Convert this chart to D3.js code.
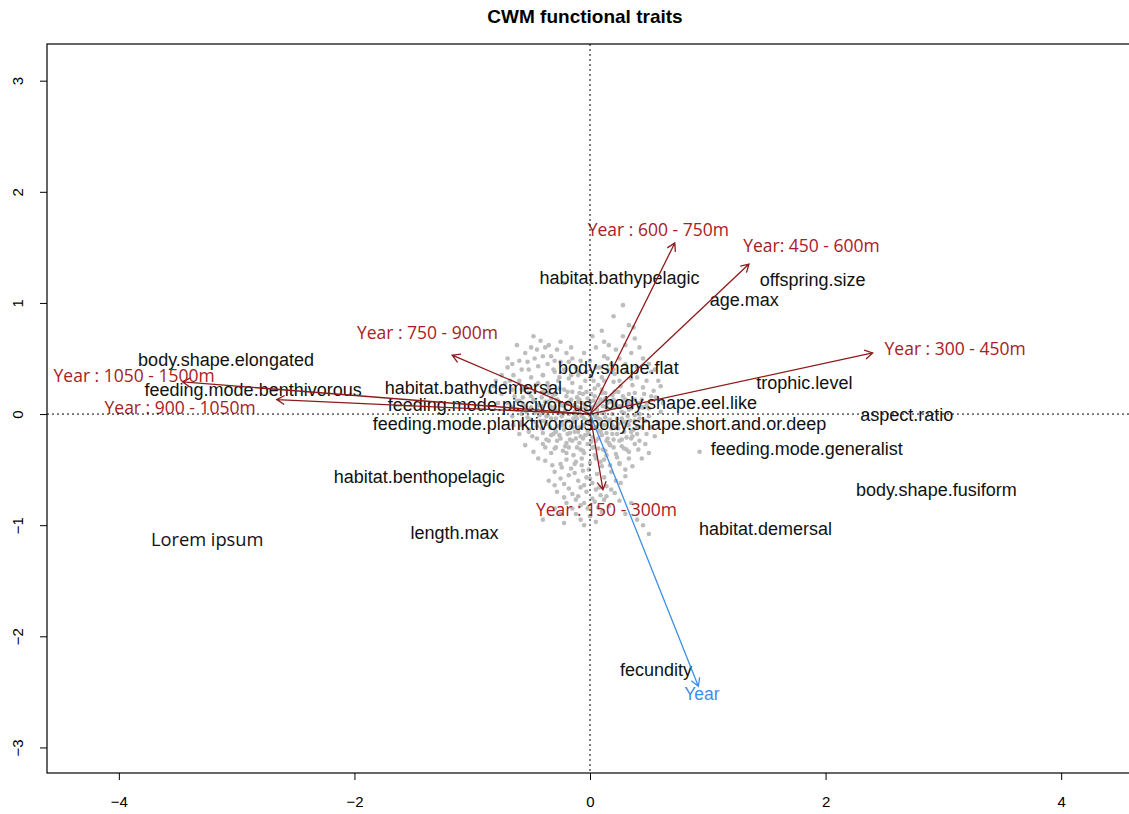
<!DOCTYPE html>
<html>
<head>
<meta charset="utf-8">
<script src="https://cdn.jsdelivr.net/npm/d3@7"></script>
<style>
  html, body { margin: 0; padding: 0; background: #fff; }
  svg { display: block; }
</style>
</head>
<body>
<svg id="chart" width="1129" height="814"></svg>
<script>
// ---------------- DATA ----------------
const xTicks = [-4, -2, 0, 2, 4];
const yTicks = [-3, -2, -1, 0, 1, 2, 3];

const traitLabels = ["habitat.bathypelagic","offspring.size","age.max","body.shape.elongated",
  "feeding.mode.benthivorous","habitat.bathydemersal","body.shape.flat","feeding.mode.piscivorous",
  "body.shape.eel.like","feeding.mode.planktivorous","body.shape.short.and.or.deep","trophic.level",
  "aspect.ratio","feeding.mode.generalist","body.shape.fusiform","habitat.demersal",
  "habitat.benthopelagic","length.max","fecundity"];
const traitX = [0.25, 1.89, 1.31, -3.09, -2.86, -0.99, 0.24, -0.85, 0.77, -0.91, 1.00, 1.82,
  2.69, 1.84, 2.94, 1.49, -1.45, -1.15, 0.56];
const traitY = [1.23, 1.21, 1.03, 0.49, 0.22, 0.24, 0.42, 0.08, 0.10, -0.09, -0.09, 0.28,
  -0.01, -0.31, -0.68, -1.03, -0.56, -1.07, -2.30];

const depthLabels = ["Year : 600 - 750m","Year: 450 - 600m","Year : 300 - 450m","Year : 750 - 900m",
  "Year : 1050 - 1500m","Year : 900 - 1050m","Year : 150 - 300m"];
const depthArrowX = [0.72, 1.35, 2.40, -1.17, -3.46, -2.66, 0.11];
const depthArrowY = [1.54, 1.35, 0.55, 0.53, 0.29, 0.13, -0.68];
const depthLabelX = [0.58, 1.88, 3.10, -1.38, -3.87, -3.48, 0.14];
const depthLabelY = [1.66, 1.51, 0.59, 0.73, 0.34, 0.06, -0.86];

const yearLabel = "Year";
const yearArrow = [0.92, -2.45];
const yearLabelPos = [0.95, -2.52];

const noteLabel = "Lorem ipsum";
const notePos = [-3.25, -1.13];

// site scores (grey cloud)
const sitePoints = [
  [-0.42,0.66],[-0.38,0.60],[-0.55,0.55],[-0.60,0.48],[-0.47,0.50],[-0.33,0.52],[-0.28,0.58],[-0.70,0.42],
  [-0.65,0.35],[-0.52,0.40],[-0.44,0.43],[-0.36,0.45],[-0.25,0.47],[-0.20,0.55],[-0.15,0.50],[-0.80,0.30],
  [-0.72,0.28],[-0.60,0.30],[-0.50,0.33],[-0.40,0.35],[-0.30,0.38],[-0.22,0.40],[-0.12,0.42],[-0.08,0.48],
  [-0.85,0.20],[-0.75,0.18],[-0.66,0.22],[-0.56,0.24],[-0.46,0.26],[-0.36,0.28],[-0.27,0.30],[-0.18,0.32],
  [-0.10,0.35],[-0.03,0.38],[-0.62,0.62],[-0.48,0.70],[-0.57,0.15],[-0.78,0.10],
  [0.20,0.88],[0.33,0.80],[0.28,0.70],[0.12,0.65],[0.05,0.60],[0.22,0.58],[0.35,0.55],[0.45,0.50],
  [0.15,0.50],[0.30,0.45],[0.40,0.42],[0.52,0.38],[0.08,0.42],[0.20,0.40],[0.58,0.30],[0.48,0.30],
  [0.35,0.32],[0.25,0.30],[0.12,0.30],[0.03,0.30],
  [-0.02,0.01],[0.05,-0.03],[-0.08,0.05],[0.11,0.07],[-0.14,-0.04],[0.03,0.12],[-0.05,-0.10],[0.16,-0.06],
  [-0.19,0.09],[0.08,-0.15],[-0.11,0.15],[0.20,0.13],[-0.24,-0.08],[0.13,0.19],[-0.03,0.20],[0.27,0.02],
  [-0.29,0.03],[0.02,-0.21],[-0.17,-0.17],[0.23,-0.18],[0.33,0.10],[-0.33,0.14],[0.07,0.26],[-0.09,-0.26],
  [0.31,-0.10],[-0.37,-0.02],[0.17,-0.28],[-0.22,0.22],[0.38,0.19],[-0.41,0.07],[0.10,0.33],[-0.15,0.28],
  [0.42,-0.04],[-0.45,-0.11],[0.26,0.25],[-0.28,-0.24],[0.01,0.34],[0.48,0.08],[-0.50,0.16],[0.36,-0.20],
  [-0.06,-0.33],[0.14,-0.37],[-0.35,0.24],[0.45,0.24],[-0.54,0.02],[0.29,-0.31],[-0.20,-0.35],[0.05,0.42],
  [-0.10,0.38],[0.52,-0.12],[-0.58,-0.07],[0.21,0.36],[-0.26,0.33],[0.40,0.33],[-0.44,0.28],[0.09,-0.43],
  [-0.13,-0.45],[0.56,0.15],[-0.62,0.12],[0.33,-0.40],[-0.38,-0.30],[0.00,0.48],[-0.49,-0.20],[0.47,-0.27],
  [0.18,0.45],[-0.31,0.40],[0.60,0.02],[-0.67,0.06],[0.25,-0.45],[-0.24,-0.48],[-0.01,-0.50],[0.12,0.52],
  [-0.18,0.47],
  [0.01,-0.05],[-0.04,0.08],[0.06,0.04],[-0.07,-0.02],[0.09,-0.09],[-0.10,0.11],[0.12,0.01],[-0.13,0.02],
  [0.04,0.16],[-0.02,-0.15],[0.15,0.10],[-0.16,-0.11],[0.18,-0.13],[-0.20,0.16],[0.21,0.06],[-0.23,0.00],
  [0.07,-0.22],[-0.08,0.24],[0.24,-0.09],[-0.27,0.12],[0.28,0.16],[-0.30,-0.14],[0.10,0.22],[-0.12,-0.22],
  [0.32,-0.02],[-0.34,0.07],[0.14,-0.24],[-0.04,0.30],[0.35,0.05],[-0.39,0.19],[0.20,0.29],[-0.21,-0.29],
  [0.37,-0.14],[-0.42,-0.06],[0.03,-0.30],[0.44,0.13],[-0.47,0.12],[0.27,-0.23],[-0.16,0.35],[0.50,-0.02],
  [-0.52,-0.14],[0.15,0.40],[-0.33,-0.19],[0.41,-0.32],[-0.40,0.35],[0.54,0.21],[-0.56,0.22],[0.22,-0.36],
  [-0.07,-0.40],[0.31,0.38],
  [-0.58,0.22],[-0.47,0.21],[-0.35,0.19],[-0.26,0.23],[-0.15,0.20],[-0.06,0.18],[0.04,0.23],[0.13,0.14],
  [0.24,0.20],[0.36,0.26],[0.46,0.18],[-0.64,0.16],[-0.41,0.15],[-0.31,0.17],[-0.11,0.06],[-0.02,0.14],
  [0.08,0.10],[0.19,0.17],[0.30,0.13],[0.41,0.10],[0.52,0.16],[-0.70,0.10],[-0.57,0.09],[-0.45,0.04],
  [-0.36,0.11],[-0.25,0.08],[-0.16,0.13],[-0.07,0.10],[0.02,0.06],[0.11,0.12],[0.22,0.09],[0.33,0.04],
  [0.44,0.06],[-0.62,0.04],[-0.50,0.06],[-0.40,0.01],[-0.30,0.06],[-0.21,0.03],[-0.12,-0.01],[-0.03,0.03],
  [0.06,0.00],[0.15,0.04],[0.26,0.07],[0.38,-0.01],[0.50,0.05],[-0.66,-0.02],[-0.53,-0.03],[-0.43,-0.01],
  [-0.33,-0.04],[-0.24,-0.02],[-0.14,-0.07],[-0.05,-0.04],[0.04,-0.01],[0.13,-0.03],[0.23,-0.04],[0.34,-0.06],
  [0.47,-0.06],[-0.58,-0.10],[-0.46,-0.07],[-0.37,-0.09],[-0.27,-0.11],[-0.18,-0.06],[-0.09,-0.12],[0.00,-0.08],
  [0.09,-0.05],[0.19,-0.10],[0.29,-0.07],[0.40,-0.11],[-0.52,-0.16],[-0.41,-0.13],[-0.31,-0.18],[-0.22,-0.14],
  [-0.13,-0.16],[-0.04,-0.19],[0.05,-0.12],[0.14,-0.17],[0.24,-0.13],[0.35,-0.16],[0.48,-0.18],[-0.45,-0.22],
  [-0.35,-0.24],[-0.26,-0.19],[-0.17,-0.23],[-0.08,-0.20],[0.01,-0.25],[0.10,-0.19],[0.20,-0.23],[0.31,-0.21],
  [0.42,-0.24],[-0.40,-0.27],[-0.29,-0.30],[-0.20,-0.26],[-0.11,-0.30],[-0.02,-0.27],[0.07,-0.31],[0.16,-0.26],
  [0.27,-0.29],[0.38,-0.27],[-0.33,-0.35],[-0.23,-0.33],[-0.14,-0.37],[-0.05,-0.35],[0.04,-0.37],[0.13,-0.33],
  [0.23,-0.39],[0.33,-0.34],
  [-0.38,-0.42],[-0.25,-0.45],[-0.12,-0.43],[0.00,-0.44],[0.12,-0.41],[0.25,-0.44],[0.36,-0.47],[-0.30,-0.52],
  [-0.18,-0.55],[-0.06,-0.51],[0.06,-0.54],[0.18,-0.52],[0.30,-0.56],[-0.35,-0.60],[-0.22,-0.63],[-0.10,-0.60],
  [0.02,-0.62],[0.14,-0.65],[0.26,-0.62],[-0.28,-0.70],[-0.15,-0.72],[-0.03,-0.70],[0.09,-0.73],[0.21,-0.71],
  [-0.20,-0.80],[-0.08,-0.82],[0.04,-0.79],[0.16,-0.83],[-0.30,-0.85],[-0.12,-0.90],[0.00,-0.92],[0.10,-0.88],
  [-0.40,-0.95],[-0.22,-0.98],[-0.05,-1.00],[0.30,-0.90],[0.45,-1.00],[0.50,-1.08],[-0.16,-0.49],[-0.03,-0.57],
  [0.10,-0.47],[-0.08,-0.66],[0.05,-0.68],[-0.12,-0.77],[0.12,-0.77],[-0.02,-0.85],
  [-0.22,1.18],[0.93,-0.34],[0.37,0.78],[0.28,0.98],
  [-0.70,0.50],[-0.66,0.45],[-0.58,0.40],[-0.75,0.35],[-0.68,0.30],[-0.82,0.25],[-0.53,0.47],[-0.45,0.58],
  [-0.35,0.62],[-0.30,0.48],[-0.40,0.52],[-0.50,0.60],[-0.25,0.65],[-0.16,0.60],[-0.05,0.55],[0.02,0.70],
  [0.10,0.75],[0.16,0.62],[0.25,0.50],[0.30,0.62],[0.38,0.68],[0.42,0.60],[0.50,0.45],[0.55,0.40],
  [0.60,0.25],[0.62,0.10],[0.58,-0.08],[0.55,-0.20],[0.50,-0.35],[0.44,-0.40],[-0.60,-0.18],[-0.65,-0.10],
  [-0.55,-0.28],[-0.48,-0.34],[-0.44,-0.40],
  [-0.52,0.19],[-0.40,0.20],[-0.29,0.18],[-0.19,0.20],[-0.09,0.19],[0.01,0.18],[0.10,0.19],[0.21,0.20],
  [0.33,0.18],[-0.60,0.12],[-0.48,0.13],[-0.38,0.11],[-0.28,0.13],[-0.18,0.11],[-0.09,0.13],[0.00,0.11],
  [0.09,0.13],[0.18,0.11],[0.28,0.12],[0.38,0.13],[-0.55,0.07],[-0.44,0.08],[-0.33,0.06],[-0.22,0.07],
  [-0.13,0.08],[-0.04,0.06],[0.05,0.08],[0.14,0.06],[0.24,0.07],[0.36,0.08],[0.46,0.06],[-0.58,0.00],
  [-0.47,0.01],[-0.36,-0.01],[-0.27,0.01],[-0.18,0.00],[-0.09,0.01],[0.00,-0.01],[0.10,0.01],[0.19,0.00],
  [0.29,0.01],[0.42,0.00],[-0.50,-0.05],[-0.39,-0.06],[-0.29,-0.04],[-0.20,-0.06],[-0.11,-0.04],[-0.02,-0.06],
  [0.07,-0.04],[0.17,-0.05],[0.27,-0.04],[0.38,-0.06],[-0.45,-0.11],[-0.34,-0.12],[-0.24,-0.10],[-0.15,-0.12],
  [-0.06,-0.10],[0.04,-0.12],[0.12,-0.10],[0.22,-0.12],[0.33,-0.10],[0.44,-0.12],[-0.40,-0.17],[-0.29,-0.16],
  [-0.19,-0.18],[-0.10,-0.16],[-0.01,-0.18],[0.09,-0.16],[0.19,-0.18],[0.29,-0.16],[0.40,-0.18],[-0.37,-0.23],
  [-0.25,-0.22],[-0.15,-0.24],[-0.06,-0.22],[0.05,-0.24],[0.15,-0.22],[0.25,-0.24],[0.35,-0.22],[-0.30,-0.31],
  [-0.18,-0.30],[-0.08,-0.32],[0.02,-0.30],[0.11,-0.32],[0.20,-0.30],[0.31,-0.32],
  [-0.32,-0.46],[-0.20,-0.41],[-0.07,-0.46],[0.05,-0.40],[0.17,-0.46],[0.30,-0.50],[-0.25,-0.58],[-0.13,-0.53],
  [0.00,-0.58],[0.12,-0.57],[0.22,-0.60],[-0.30,-0.64],[-0.18,-0.67],[-0.05,-0.64],[0.08,-0.66],[0.18,-0.68],
  [-0.22,-0.75],[-0.10,-0.74],[0.02,-0.76],[0.14,-0.74],[-0.15,-0.85],[-0.05,-0.80],[0.07,-0.84],[-0.25,-0.90],
  [-0.08,-0.95],[0.05,-0.97],[0.40,-0.95],[0.35,-0.80],[0.25,-0.78]
];

// ---------------- LAYOUT ----------------
const svg = d3.select("#chart");
const x = d3.scaleLinear().domain([-4.61, 4.61]).range([47, 1133]);
const y = d3.scaleLinear().domain([-3.23, 3.33]).range([773, 44]);

const darkRed = "#8e1b1b";
const redText = "#a8201f";
const blue = "#3d8fe6";
const blackFont = "'Liberation Sans', Arial, Helvetica, sans-serif";
const redFont = "'Open Sans', 'Noto Sans', sans-serif";

// title
svg.append("text")
  .attr("x", 585).attr("y", 23)
  .attr("text-anchor", "middle")
  .attr("font-family", blackFont)
  .attr("font-weight", "bold")
  .attr("font-size", 19)
  .text("CWM functional traits");

// axes
const xAxis = d3.axisBottom(x).tickValues(xTicks).tickSize(7).tickPadding(16).tickFormat(d3.format("d"));
const gx = svg.append("g").attr("transform", `translate(0,${y(-3.23)})`).call(xAxis);
gx.select(".domain").remove();
gx.selectAll("text").attr("font-family", blackFont).attr("font-size", 15).attr("fill", "#000");
gx.selectAll("line").attr("stroke", "#000");

const yAxis = d3.axisLeft(y).tickValues(yTicks).tickSize(7).tickFormat(d3.format("d"));
const gy = svg.append("g").attr("transform", `translate(${x(-4.61)},0)`).call(yAxis);
gy.select(".domain").remove();
gy.selectAll("line").attr("stroke", "#000");
gy.selectAll(".tick text")
  .attr("font-family", blackFont).attr("font-size", 15).attr("fill", "#000")
  .attr("text-anchor", "middle")
  .attr("x", 0).attr("y", 5).attr("dy", null)
  .attr("transform", "translate(-29,0) rotate(-90)");

// box
svg.append("rect")
  .attr("x", x(-4.61)).attr("y", y(3.33))
  .attr("width", x(4.61) - x(-4.61)).attr("height", y(-3.23) - y(3.33))
  .attr("fill", "none").attr("stroke", "#000").attr("stroke-width", 1.2);

// points
svg.append("g").selectAll("circle").data(sitePoints).join("circle")
  .attr("cx", d => x(d[0])).attr("cy", d => y(d[1]))
  .attr("r", 2.3).attr("fill", "#bdbdbd");

// trait labels
svg.append("g").selectAll("text").data(traitLabels).join("text")
  .attr("x", (d, i) => x(traitX[i])).attr("y", (d, i) => y(traitY[i]))
  .attr("dy", "0.35em").attr("text-anchor", "middle")
  .attr("font-family", blackFont).attr("font-size", 18).attr("fill", "#111")
  .text(d => d);

// arrows
function arrow(g, x1, y1, x2, y2, color) {
  const ang = Math.atan2(y2 - y1, x2 - x1);
  const L = 9, a = Math.PI / 6;
  const p = d3.path();
  p.moveTo(x1, y1); p.lineTo(x2, y2);
  p.moveTo(x2 - L * Math.cos(ang - a), y2 - L * Math.sin(ang - a));
  p.lineTo(x2, y2);
  p.lineTo(x2 - L * Math.cos(ang + a), y2 - L * Math.sin(ang + a));
  g.append("path").attr("d", p.toString()).attr("fill", "none")
    .attr("stroke", color).attr("stroke-width", 1.3);
}
const ga = svg.append("g");
depthLabels.forEach((d, i) => arrow(ga, x(0), y(0), x(depthArrowX[i]), y(depthArrowY[i]), darkRed));
arrow(ga, x(0), y(0), x(yearArrow[0]), y(yearArrow[1]), blue);

// depth labels
svg.append("g").selectAll("text").data(depthLabels).join("text")
  .attr("x", (d, i) => x(depthLabelX[i])).attr("y", (d, i) => y(depthLabelY[i]))
  .attr("dy", "0.35em").attr("text-anchor", "middle")
  .attr("font-family", redFont).attr("font-size", 17.5).attr("fill", redText)
  .text(d => d);

svg.append("text")
  .attr("x", x(yearLabelPos[0])).attr("y", y(yearLabelPos[1]))
  .attr("dy", "0.35em").attr("text-anchor", "middle")
  .attr("font-family", blackFont).attr("font-size", 17.5).attr("fill", blue)
  .text(yearLabel);

svg.append("text")
  .attr("x", x(notePos[0])).attr("y", y(notePos[1]))
  .attr("dy", "0.35em").attr("text-anchor", "middle")
  .attr("font-family", redFont).attr("font-size", 18.3).attr("fill", "#111")
  .text(noteLabel);

// reference lines (dotted)
svg.append("line")
  .attr("x1", x(-4.61)).attr("x2", x(4.61)).attr("y1", y(0)).attr("y2", y(0))
  .attr("stroke", "#000").attr("stroke-width", 1).attr("stroke-dasharray", "2,3");
svg.append("line")
  .attr("x1", x(0)).attr("x2", x(0)).attr("y1", y(3.33)).attr("y2", y(-3.23))
  .attr("stroke", "#000").attr("stroke-width", 1).attr("stroke-dasharray", "2,3");
</script>
</body>
</html>
